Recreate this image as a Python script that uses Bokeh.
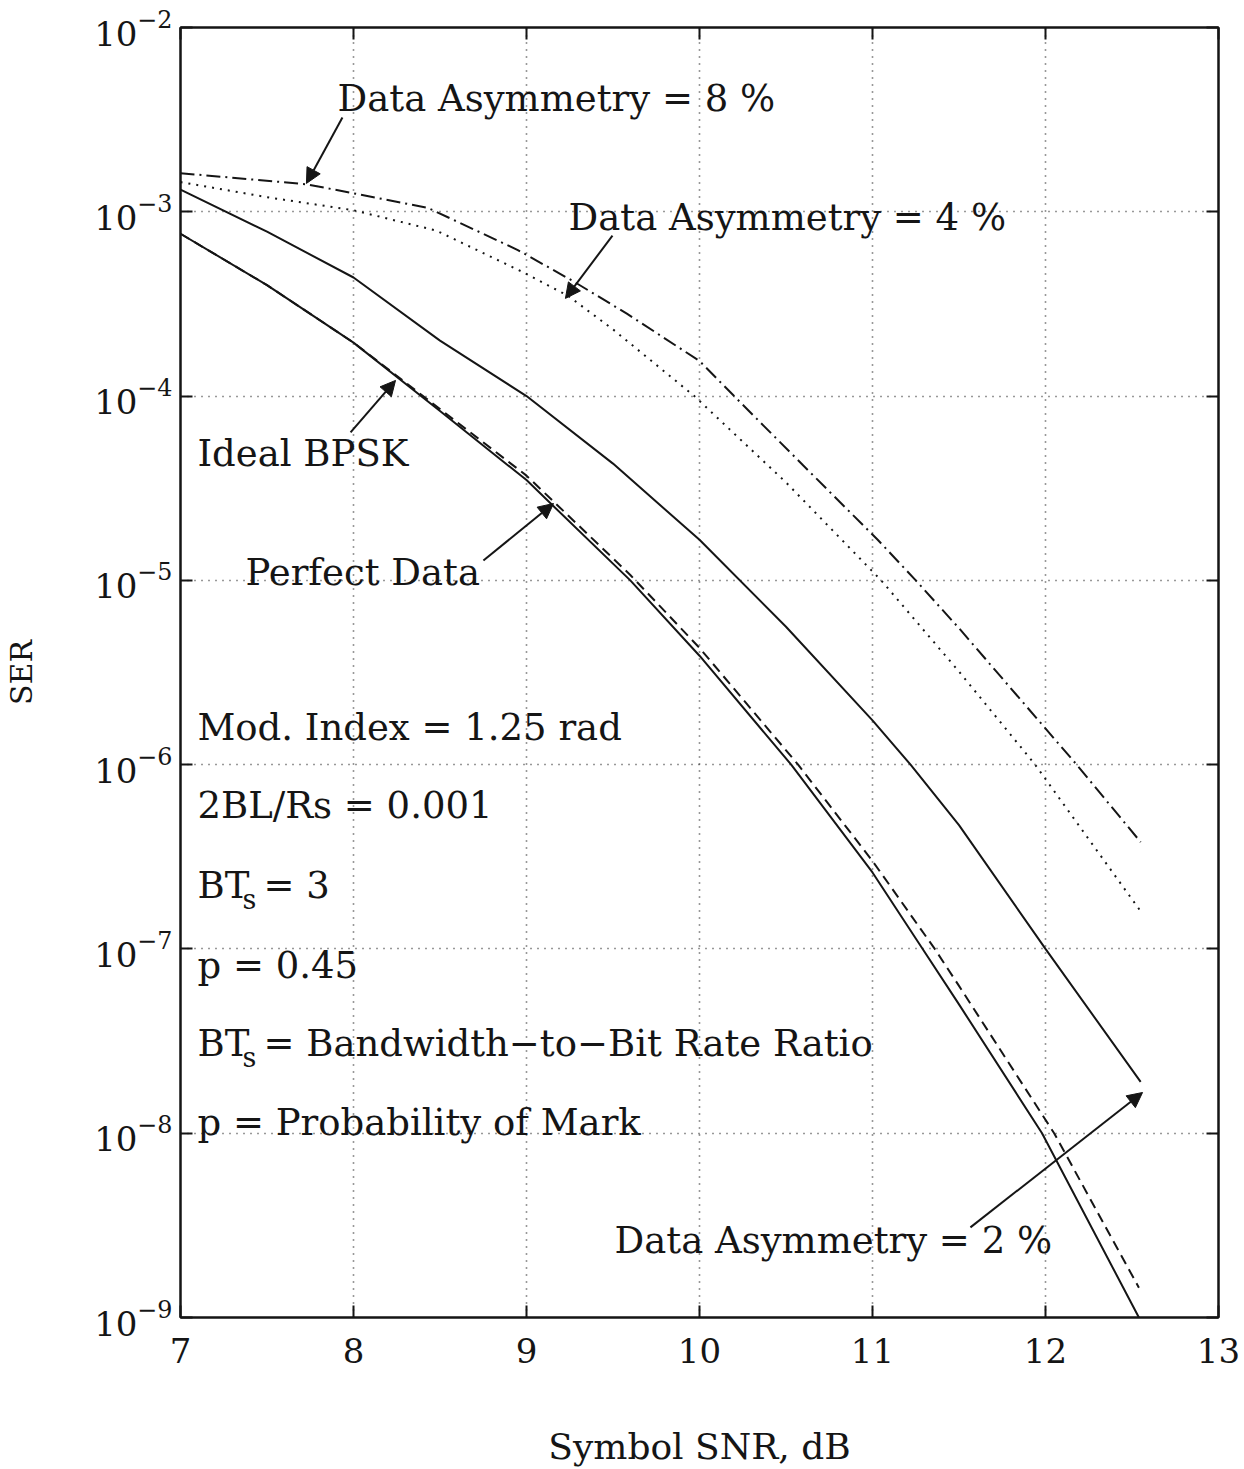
from bokeh.embed import file_html
from bokeh.models import (Arrow, FixedTicker, Label, LinearAxis, LogAxis,
                          LogTickFormatter, NormalHead, Range1d)
from bokeh.plotting import figure
from bokeh.resources import INLINE

# ---- data: symbol error rate vs symbol SNR (dB) ----
x_ticks = [7, 8, 9, 10, 11, 12, 13]
y_exponents = [-9, -8, -7, -6, -5, -4, -3, -2]

snr_ideal = [7.0, 7.5, 8.0, 8.5, 9.0, 9.6, 10.0, 10.53, 11.0, 11.29, 11.5, 11.98, 12.54]
ser_ideal = [7.6e-4, 4.0e-4, 1.95e-4, 8.3e-5, 3.5e-5, 1.0e-5, 3.9e-6, 1.0e-6,
             2.6e-7, 1.0e-7, 5.0e-8, 1.0e-8, 1.0e-9]

snr_perfect = [7.0, 7.5, 8.0, 8.5, 9.0, 9.6, 10.0, 10.57, 11.0, 11.36, 11.5, 12.05, 12.54]
ser_perfect = [7.6e-4, 4.0e-4, 1.95e-4, 8.5e-5, 3.7e-5, 1.07e-5, 4.3e-6, 1.0e-6,
               3.0e-7, 1.0e-7, 6.3e-8, 1.0e-8, 1.45e-9]

snr_asym2 = [7.0, 7.5, 8.0, 8.5, 9.0, 9.5, 10.0, 10.5, 11.0, 11.22, 11.5, 12.0, 12.55]
ser_asym2 = [1.32e-3, 7.8e-4, 4.4e-4, 2.0e-4, 1.0e-4, 4.3e-5, 1.66e-5, 5.6e-6,
             1.74e-6, 1.0e-6, 4.7e-7, 1.0e-7, 1.9e-8]

snr_asym4 = [7.0, 7.5, 8.0, 8.48, 8.98, 9.24, 9.5, 9.97, 10.5, 11.05, 11.5, 11.94, 12.55]
ser_asym4 = [1.45e-3, 1.2e-3, 1.02e-3, 7.9e-4, 4.7e-4, 3.5e-4, 2.3e-4, 1.0e-4,
             3.4e-5, 1.0e-5, 3.2e-6, 1.0e-6, 1.6e-7]

snr_asym8 = [7.0, 7.73, 8.0, 8.43, 8.95, 9.27, 9.58, 10.0, 10.2, 10.6, 11.03,
             11.25, 11.5, 12.18, 12.55]
ser_asym8 = [1.62e-3, 1.41e-3, 1.26e-3, 1.05e-3, 6.2e-4, 4.2e-4, 2.8e-4, 1.55e-4,
             1.0e-4, 4.2e-5, 1.66e-5, 1.0e-5, 5.5e-6, 1.0e-6, 3.8e-7]

INK = "#151515"
SERIF = "DejaVu Serif"

p = figure(width=1244, height=1469, y_axis_type="log",
           x_range=Range1d(7, 13), y_range=Range1d(1e-9, 1e-2),
           output_backend="svg", toolbar_location=None, tools="",
           min_border_left=180, min_border_right=26,
           min_border_top=27, min_border_bottom=152,
           background_fill_color="white", border_fill_color="white")

p.outline_line_color = INK
p.outline_line_width = 2

y_ticks = [10.0 ** e for e in y_exponents]
p.xaxis.ticker = FixedTicker(ticks=x_ticks, minor_ticks=[])
p.yaxis.ticker = FixedTicker(ticks=y_ticks, minor_ticks=[])
p.yaxis.formatter = LogTickFormatter(min_exponent=0)

for axis in (p.xaxis, p.yaxis):
    axis.major_tick_in = 12
    axis.major_tick_out = 0
    axis.minor_tick_in = 0
    axis.minor_tick_out = 0
    axis.axis_line_color = INK
    axis.axis_line_width = 2
    axis.major_tick_line_color = INK
    axis.major_tick_line_width = 2
    axis.major_label_text_font = SERIF
    axis.major_label_text_font_size = "34px"
    axis.major_label_text_color = INK
    axis.axis_label_text_font = SERIF
    axis.axis_label_text_font_style = "normal"
    axis.axis_label_text_color = INK

p.xaxis.major_label_standoff = 20
p.xaxis.axis_label = "Symbol SNR, dB"
p.xaxis.axis_label_text_font_size = "36px"
p.xaxis.axis_label_standoff = 60

p.yaxis.major_label_standoff = 8
p.yaxis.axis_label = "SER"
p.yaxis.axis_label_text_font_size = "30px"
p.yaxis.axis_label_standoff = 52

# tick marks on the top and right edges of the box
edge_style = dict(major_tick_in=12, major_tick_out=0,
                  minor_tick_in=0, minor_tick_out=0,
                  major_label_text_font_size="2px", major_label_text_alpha=0,
                  major_label_standoff=0,
                  axis_line_color=INK, axis_line_width=2,
                  major_tick_line_color=INK, major_tick_line_width=2)
top_axis = LinearAxis(ticker=FixedTicker(ticks=x_ticks, minor_ticks=[]), **edge_style)
right_axis = LogAxis(ticker=FixedTicker(ticks=y_ticks, minor_ticks=[]), **edge_style)
p.add_layout(top_axis, "above")
p.add_layout(right_axis, "right")

for grid in (p.xgrid, p.ygrid):
    grid.grid_line_color = "#333333"
    grid.grid_line_width = 1.6
    grid.grid_line_dash = "1 6"

# curves
p.line(snr_ideal, ser_ideal, line_color=INK, line_width=2)
p.line(snr_perfect, ser_perfect, line_color=INK, line_width=2, line_dash="10 6")
p.line(snr_asym2, ser_asym2, line_color=INK, line_width=2)
p.line(snr_asym4, ser_asym4, line_color=INK, line_width=2, line_dash="2 6")
p.line(snr_asym8, ser_asym8, line_color=INK, line_width=2, line_dash="14 5 2 5")


def note(x, log_y, text, size="37px", dx=0, dy=0):
    p.add_layout(Label(x=x, y=10 ** log_y, x_offset=dx, y_offset=dy, text=text,
                       text_align="left", text_baseline="middle",
                       text_font=SERIF, text_font_size=size, text_color=INK))


def pointer(x0, ly0, x1, ly1):
    p.add_layout(Arrow(end=NormalHead(size=15, fill_color=INK, line_color=INK),
                       x_start=x0, y_start=10 ** ly0, x_end=x1, y_end=10 ** ly1,
                       line_color=INK, line_width=2))


# curve call-outs
note(7.908, -2.385, "Data Asymmetry = 8 %")
pointer(7.936, -2.488, 7.728, -2.846)

note(9.243, -3.031, "Data Asymmetry = 4 %")
pointer(9.497, -3.129, 9.225, -3.470)

note(7.098, -4.311, "Ideal BPSK")
pointer(7.983, -4.197, 8.243, -3.915)

note(7.376, -4.957, "Perfect Data")
pointer(8.751, -4.892, 9.156, -4.583)

note(9.509, -8.582, "Data Asymmetry = 2 %")
pointer(11.566, -8.511, 12.561, -7.779)

# simulation parameters
note(7.098, -5.798, "Mod. Index = 1.25 rad")
note(7.098, -6.221, "2BL/Rs = 0.001")
note(7.098, -6.655, "BT")
note(7.098, -6.655, "s", size="27px", dx=45, dy=-14)
note(7.098, -6.655, "= 3", dx=66)
note(7.098, -7.090, "p = 0.45")
note(7.098, -7.513, "BT")
note(7.098, -7.513, "s", size="27px", dx=45, dy=-14)
note(7.098, -7.513, "= Bandwidth\u2212to\u2212Bit Rate Ratio", dx=66)
note(7.098, -7.941, "p = Probability of Mark")

open("out.html", "w").write(file_html(p, INLINE))
